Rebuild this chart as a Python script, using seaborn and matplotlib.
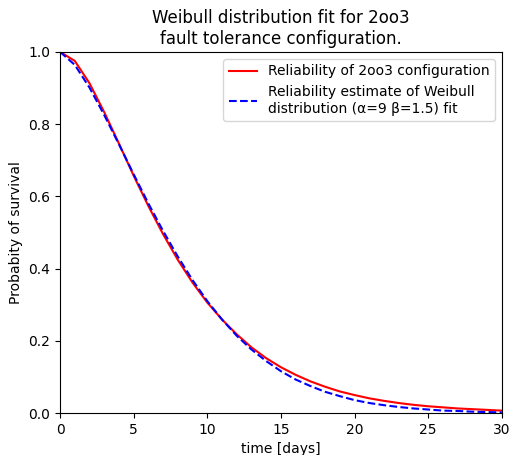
import pandas as pd
import matplotlib
matplotlib.use("Agg")
import matplotlib.pyplot as plt
import seaborn as sns

# time in days
days = list(range(0, 31))

# reliability of the 2oo3 configuration
r_2oo3 = [1.0, 0.975, 0.913, 0.833, 0.746, 0.657, 0.573, 0.495, 0.424, 0.361,
          0.306, 0.259, 0.218, 0.182, 0.152, 0.127, 0.106, 0.088, 0.073, 0.060,
          0.050, 0.041, 0.034, 0.028, 0.023, 0.019, 0.016, 0.013, 0.011, 0.009,
          0.007]

# weibull fit estimate (alpha=9, beta=1.5)
r_weibull = [1.0, 0.964, 0.901, 0.825, 0.744, 0.661, 0.580, 0.504, 0.433, 0.368,
             0.310, 0.259, 0.214, 0.176, 0.144, 0.116, 0.093, 0.075, 0.059, 0.047,
             0.036, 0.028, 0.022, 0.017, 0.013, 0.010, 0.007, 0.006, 0.004, 0.003,
             0.002]

df = pd.DataFrame({"days": days, "r_2oo3": r_2oo3, "r_weibull": r_weibull})

fig, ax = plt.subplots(figsize=(5.09, 4.55), dpi=100)
sns.lineplot(data=df, x="days", y="r_2oo3", color="red",
             label="Reliability of 2oo3 configuration", ax=ax)
sns.lineplot(data=df, x="days", y="r_weibull", color="blue", linestyle="--",
             label="Reliability estimate of Weibull\ndistribution (\u03b1=9 \u03b2=1.5) fit", ax=ax)

ax.set_xlim(0, 30)
ax.set_ylim(0, 1)
ax.set_xlabel("time [days]")
ax.set_ylabel("Probabity of survival")
ax.set_title("Weibull distribution fit for 2oo3\nfault tolerance configuration.")
ax.legend(loc="upper right")

fig.subplots_adjust(left=0.118, right=0.986, top=0.886, bottom=0.092)
fig.savefig("out.png")
